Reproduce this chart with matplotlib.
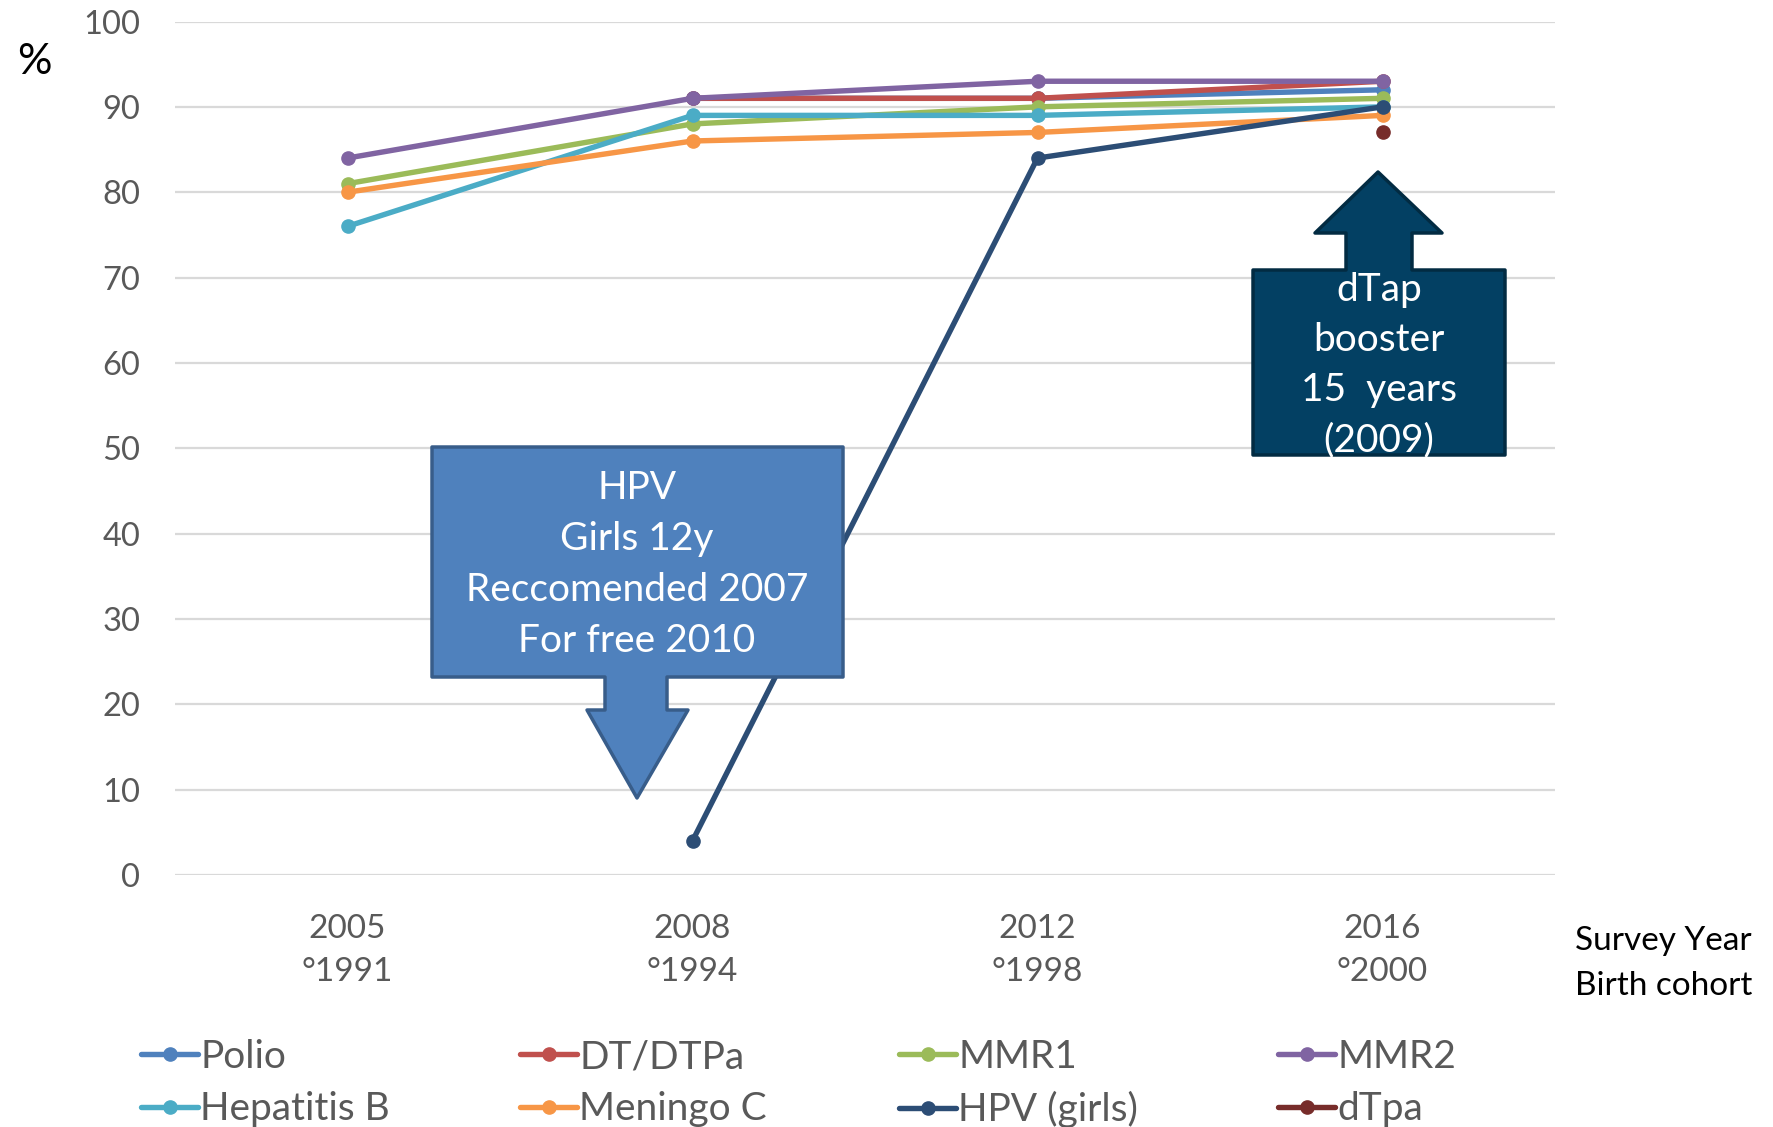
import numpy as np
import matplotlib
matplotlib.use("Agg")
import matplotlib.pyplot as plt
from matplotlib.patches import Polygon

# ---------------- data ----------------
categories = ["2005\n°1991", "2008\n°1994", "2012\n°1998", "2016\n°2000"]
series_names = ["Polio", "DT/DTPa", "MMR1", "MMR2", "Hepatitis B", "Meningo C", "HPV (girls)", "dTpa"]
polio = [np.nan, 91, 91, 92]
dt_dtpa = [np.nan, 91, 91, 93]
mmr1 = [81, 88, 90, 91]
mmr2 = [84, 91, 93, 93]
hepatitis_b = [76, 89, 89, 90]
meningo_c = [80, 86, 87, 89]
hpv_girls = [np.nan, 4, 84, 90]
dtpa = [np.nan, np.nan, np.nan, 87]
series_values = [polio, dt_dtpa, mmr1, mmr2, hepatitis_b, meningo_c, hpv_girls, dtpa]
colors = ["#4F81BD", "#C0504D", "#9BBB59", "#8064A2", "#4BACC6", "#F79646", "#2C4D75", "#772C2A"]
y_ticks = list(range(0, 101, 10))

hpv_note = ["HPV", "Girls 12y", "Reccomended 2007", "For free 2010"]
dtap_note = ["dTap", "booster", "15  years", "(2009)"]

# ---------------- figure ----------------
W, H = 1773, 1127
plt.rcParams['font.family'] = ['Lato', 'DejaVu Sans']
fig = plt.figure(figsize=(W / 100, H / 100), dpi=100)
ax = fig.add_axes([175 / W, 1 - 875 / H, (1555 - 175) / W, (875 - 21.5) / H])

x = np.arange(len(categories))
for name, vals, c in zip(series_names, series_values, colors):
    ax.plot(x, vals, color=c, lw=3.9, marker="o", markersize=9.5, zorder=3,
            solid_capstyle="round", label=name)

ax.set_xlim(-0.5, len(categories) - 0.5)
ax.set_ylim(0, 100)
ax.set_yticks(y_ticks)
ax.set_xticks(x)
ax.set_xticklabels(categories, linespacing=1.56)
ax.tick_params(axis="y", length=0, pad=25, labelsize=23.5, labelcolor="#595959")
ax.tick_params(axis="x", length=0, pad=28, labelsize=24, labelcolor="#595959")
ax.grid(axis="y", color="#D9D9D9", lw=1.6, zorder=0)
ax.set_axisbelow(True)
for s in ax.spines.values():
    s.set_visible(False)

# "%" label and x-axis title
fig.text(17 / W, 1 - 62 / H, "%", fontsize=31, color="black", ha="left", va="center")
fig.text(1575 / W, 1 - 941 / H, "Survey Year", fontsize=24, color="black", ha="left", va="center")
fig.text(1575 / W, 1 - 986 / H, "Birth cohort", fontsize=24, color="black", ha="left", va="center")

# ---------------- callouts ----------------
def fp(pts):
    return [(px / W, 1 - py / H) for px, py in pts]

hpv_poly = [(432, 447), (843, 447), (843, 677), (667, 677), (667, 710), (688, 710),
            (637, 798), (587, 710), (605, 710), (605, 677), (432, 677)]
p1 = Polygon(fp(hpv_poly), closed=True, transform=fig.transFigure, facecolor="#4F81BD",
             edgecolor="#385D8A", lw=2.5, joinstyle="round", zorder=5, clip_on=False)
ax.add_patch(p1)
for i, line in enumerate(hpv_note):
    fig.text(637 / W, 1 - (488 + 51 * i) / H, line, fontsize=28, color="white",
             ha="center", va="center", zorder=6)

dtap_poly = [(1253, 270), (1346, 270), (1346, 233), (1315, 233), (1378, 172), (1442, 233),
             (1412, 233), (1412, 270), (1505, 270), (1505, 455), (1253, 455)]
p2 = Polygon(fp(dtap_poly), closed=True, transform=fig.transFigure, facecolor="#034063",
             edgecolor="#022B42", lw=2.5, joinstyle="round", zorder=5, clip_on=False)
ax.add_patch(p2)
for i, line in enumerate(dtap_note):
    fig.text(1379 / W, 1 - (290 + 50 * i) / H, line, fontsize=28, color="white",
             ha="center", va="center", zorder=6)

# ---------------- legend (4 columns) ----------------
handles, labels = ax.get_legend_handles_labels()
col_x = [141, 520, 899, 1278]
for ci in range(4):
    hs = [handles[ci], handles[ci + 4]]
    ls = [labels[ci], labels[ci + 4]]
    fig.legend(hs, ls, loc="upper left", bbox_to_anchor=(col_x[ci] / W, 1 - 1039 / H),
               frameon=False, fontsize=28, handlelength=1.47, handletextpad=0.05,
               borderpad=0, borderaxespad=0, labelspacing=0.42, labelcolor="#595959")

fig.savefig("out.png", dpi=100)
